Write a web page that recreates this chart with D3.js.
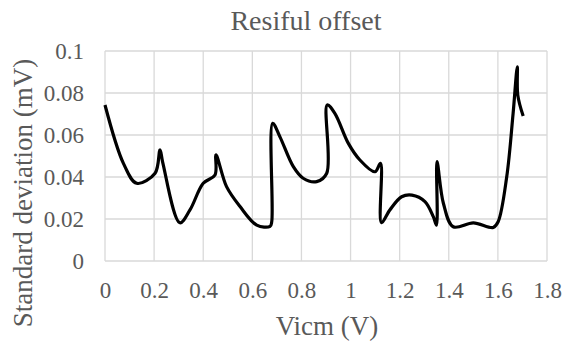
<!DOCTYPE html>
<html>
<head>
<meta charset="utf-8">
<script src="https://cdn.jsdelivr.net/npm/d3@7"></script>
<style>
  body { margin: 0; background: #fff; }
</style>
</head>
<body>
<svg width="564" height="342"></svg>
<script>
// traced values (Vicm in V, std dev in mV)
const vicm = [0, 0.075, 0.129, 0.204, 0.224, 0.235, 0.305, 0.346, 0.40, 0.448, 0.452, 0.495, 0.55, 0.618,
  0.672, 0.679, 0.683, 0.713, 0.767, 0.807, 0.862, 0.903, 0.905, 0.936, 0.991, 1.038, 1.099, 1.122,
  1.126, 1.160, 1.208, 1.250, 1.303, 1.337, 1.350, 1.352, 1.378, 1.418, 1.50, 1.581, 1.601, 1.636,
  1.662, 1.679, 1.681, 1.703]
const stdDev = [0.0743, 0.0465, 0.037, 0.0418, 0.0529, 0.047, 0.0182, 0.0243, 0.037, 0.041, 0.0505, 0.0354, 0.0259, 0.0171,
  0.0165, 0.0187, 0.0656, 0.059, 0.0449, 0.0394, 0.0378, 0.0418, 0.0743, 0.0703, 0.056, 0.0481, 0.0425, 0.0465,
  0.0182, 0.0243, 0.0306, 0.0314, 0.0283, 0.0211, 0.0171, 0.0473, 0.0275, 0.0163, 0.0182, 0.016, 0.0187, 0.0401,
  0.0703, 0.0925, 0.079, 0.069]
const xTicks = [0, 0.2, 0.4, 0.6, 0.8, 1, 1.2, 1.4, 1.6, 1.8]
const yTicks = [0, 0.02, 0.04, 0.06, 0.08, 0.1]

const font = "'Liberation Serif', 'Times New Roman', Times, serif"
const grey = "#595959"

const svg = d3.select("svg")
const x = d3.scaleLinear().domain([0, 1.8]).range([105, 547])
const y = d3.scaleLinear().domain([0, 0.1]).range([261, 51])

// gridlines
svg.append("g").selectAll("line")
    .data(xTicks)
    .enter().append("line")
    .attr("x1", d => x(d)).attr("x2", d => x(d))
    .attr("y1", y(0)).attr("y2", y(0.1))
    .attr("stroke", "#d9d9d9").attr("stroke-width", 1.3)
svg.append("g").selectAll("line")
    .data(yTicks)
    .enter().append("line")
    .attr("x1", x(0)).attr("x2", x(1.8))
    .attr("y1", d => y(d)).attr("y2", d => y(d))
    .attr("stroke", "#d9d9d9").attr("stroke-width", 1.3)

// axes (labels only)
const xAxis = svg.append("g")
    .attr("transform", `translate(0,${y(0)})`)
    .call(d3.axisBottom(x).tickValues(xTicks).tickSize(0).tickPadding(21).tickFormat(d => d3.format("")(d)))
xAxis.select(".domain").remove()
xAxis.attr("font-family", font).attr("font-size", 23)
xAxis.selectAll("text").attr("fill", grey)

const yAxis = svg.append("g")
    .attr("transform", `translate(${x(0)},0)`)
    .call(d3.axisLeft(y).tickValues(yTicks).tickSize(0).tickPadding(21).tickFormat(d => d3.format("")(+d.toFixed(2))))
yAxis.select(".domain").remove()
yAxis.attr("font-family", font).attr("font-size", 23)
yAxis.selectAll("text").attr("fill", grey)

// line
const pts = vicm.map((v, i) => [v, stdDev[i]])
svg.append("path")
    .datum(pts)
    .attr("fill", "none")
    .attr("stroke", "#000")
    .attr("stroke-width", 3.2)
    .attr("stroke-linejoin", "round")
    .attr("d", d3.line().x(d => x(d[0])).y(d => y(d[1])).curve(d3.curveCatmullRom.alpha(0.5)))

// titles
svg.append("text")
    .attr("x", 306).attr("y", 30)
    .attr("text-anchor", "middle")
    .attr("font-family", font).attr("font-size", 28).attr("fill", grey)
    .text("Resiful offset")
svg.append("text")
    .attr("x", 327).attr("y", 335)
    .attr("text-anchor", "middle")
    .attr("font-family", font).attr("font-size", 27).attr("fill", grey)
    .text("Vicm (V)")
svg.append("text")
    .attr("transform", "translate(32,193) rotate(-90)")
    .attr("text-anchor", "middle")
    .attr("font-family", font).attr("font-size", 27).attr("fill", grey)
    .text("Standard deviation (mV)")
</script>
</body>
</html>
